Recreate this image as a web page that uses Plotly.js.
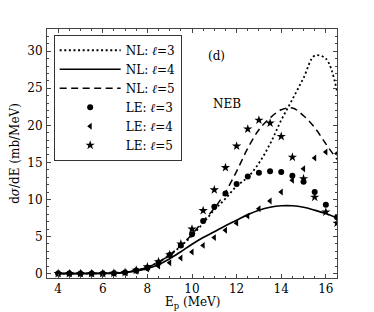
<!DOCTYPE html>
<html>
<head>
<meta charset="utf-8">
<script src="https://cdn.plot.ly/plotly-3.0.1.min.js"></script>
<style>html,body{margin:0;padding:0;background:#fff;}#chart{width:374px;height:312px;}</style>
</head>
<body>
<div id="chart"></div>
<script>
// Proton energy grid (MeV)
var energy = [4,4.5,5,5.5,6,6.5,7,7.5,8,8.5,9,9.5,10,10.5,11,11.5,12,12.5,13,13.5,14,14.5,15,15.5,16,16.5];

// NL (non-local) curves
var nl3 = [0,0,0,0.01,0.02,0.05,0.15,0.4,0.85,1.55,2.5,3.7,5.1,6.8,8.6,10.1,11.8,13.0,14.9,17.5,20.7,23.5,26.4,29.4,29.0,24.6];
var nl4 = [0,0,0,0.01,0.02,0.05,0.15,0.35,0.7,1.2,2.0,2.95,3.95,4.85,5.65,6.45,7.2,7.95,8.55,8.95,9.15,9.15,8.95,8.55,8.1,7.5];
var nl5 = [0,0,0,0.01,0.02,0.05,0.15,0.4,0.85,1.55,2.5,3.8,5.3,7.1,8.8,11.0,13.8,16.9,19.4,21.0,22.1,22.35,21.3,19.7,17.5,15.4];

// LE (local equivalent) points
var le3 = [0,0,0,0,0,0.05,0.15,0.4,0.8,1.5,2.5,3.8,5.3,7.1,9.0,10.8,12.1,13.1,13.6,13.8,13.7,13.2,12.4,11.0,9.3,7.6];
var le4 = [0,0,0,0,0,0.03,0.1,0.3,0.6,1.0,1.45,2.1,2.9,3.8,4.85,5.85,6.8,7.75,8.75,9.8,11.0,12.6,14.15,15.6,16.4,16.2];
var le5 = [0,0,0,0,0,0.05,0.15,0.45,0.9,1.6,2.55,4.0,6.0,8.5,11.3,14.3,17.2,19.5,20.7,20.3,18.5,15.7,12.8,10.3,8.3,6.8];

var names = ['NL: <i>ℓ</i>=3','NL: <i>ℓ</i>=4','NL: <i>ℓ</i>=5','LE: <i>ℓ</i>=3','LE: <i>ℓ</i>=4','LE: <i>ℓ</i>=5'];
var xTitle = 'E<sub>p</sub> (MeV)';
var yTitle = 'd<i>σ</i>/dE (mb/MeV)';

var FONT = '"DejaVu Serif", serif';

var traces = [
  {x: energy, y: nl3, mode:'lines', name: names[0], legendrank: 1, line:{color:'#000', width:1.8, dash:'2px,2.6px', shape:'spline'}},
  {x: energy, y: nl4, mode:'lines', name: names[1], legendrank: 2, line:{color:'#000', width:1.7, dash:'solid', shape:'spline'}},
  {x: energy, y: nl5, mode:'lines', name: names[2], legendrank: 3, line:{color:'#000', width:1.5, dash:'7px,4.5px', shape:'spline'}},
  {x: energy, y: le4, mode:'markers', name: names[4], legendrank: 5, marker:{symbol:'triangle-left', size:6, color:'#000'}},
  {x: energy, y: le5, mode:'markers', name: names[5], legendrank: 6, marker:{symbol:'star', size:7, color:'#000'}},
  {x: energy, y: le3, mode:'markers', name: names[3], legendrank: 4, marker:{symbol:'circle', size:6, color:'#000'}}
];

var layout = {
  width: 374, height: 312,
  margin: {l: 47, r: 37, t: 29, b: 34, pad: 0},
  paper_bgcolor: '#fff', plot_bgcolor: '#fff',
  font: {family: FONT, size: 12, color: '#000'},
  showlegend: true,
  legend: {
    x: 0.023, y: 0.977, xanchor: 'left', yanchor: 'top',
    bordercolor: '#333', borderwidth: 1, bgcolor: '#fff',
    font: {family: FONT, size: 12, color: '#000'},
    itemwidth: 61, tracegroupgap: 0,
    traceorder: 'normal'
  },
  xaxis: {
    range: [3.5, 16.5], dtick: 2, tick0: 0,
    ticks: 'inside', ticklen: 4, tickcolor: '#444',
    mirror: 'ticks', showline: true, linecolor: '#444', linewidth: 1,
    showgrid: false, zeroline: false,
    minor: {dtick: 0.5, ticklen: 2, tickcolor: '#444', ticks: 'inside', showgrid: false},
    tickfont: {family: FONT, size: 12, color: '#000'}
  },
  yaxis: {
    range: [-0.6, 33], dtick: 5, tick0: 0,
    ticks: 'inside', ticklen: 4, tickcolor: '#444',
    mirror: 'ticks', showline: true, linecolor: '#444', linewidth: 1,
    showgrid: false, zeroline: false,
    minor: {dtick: 1, ticklen: 2, tickcolor: '#444', ticks: 'inside', showgrid: false},
    tickfont: {family: FONT, size: 12, color: '#000'},
    ticklabelstandoff: 1,
    title: {text: yTitle, font: {family: FONT, size: 12, color: '#000'}, standoff: 5}
  },
  annotations: [
    {text: xTitle, xref: 'paper', yref: 'paper', x: 0.5, y: -0.062, xanchor: 'center', yanchor: 'top', showarrow: false, font: {family: FONT, size: 12, color: '#000'}},
    {text: '(d)', xref: 'paper', yref: 'paper', x: 0.586, y: 0.928, showarrow: false, font: {family: FONT, size: 12, color: '#000'}},
    {text: 'NEB', xref: 'paper', yref: 'paper', x: 0.677, y: 0.735, showarrow: false, font: {family: FONT, size: 12, color: '#000'}}
  ]
};

Plotly.newPlot('chart', traces, layout, {displayModeBar: false, staticPlot: true});
</script>
</body>
</html>
